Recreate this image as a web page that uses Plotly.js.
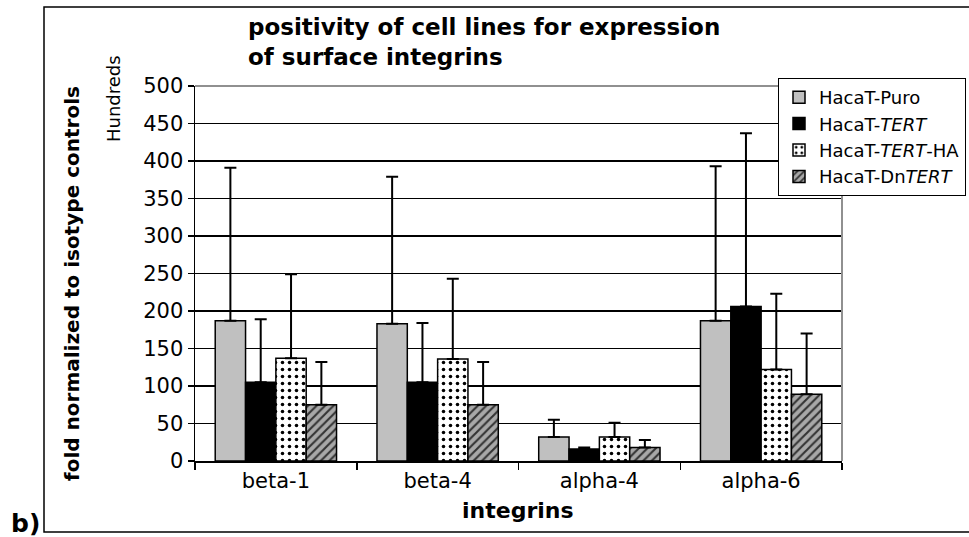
<!DOCTYPE html>
<html>
<head>
<meta charset="utf-8">
<script src="https://cdn.plot.ly/plotly-3.0.1.min.js"></script>
<style>
html,body{margin:0;padding:0;background:#fff;}
#chart{width:969px;height:537px;}
</style>
</head>
<body>
<div id="chart"></div>
<script>
const categories = ["beta-1", "beta-4", "alpha-4", "alpha-6"];
const seriesNames = ["HacaT-Puro", "HacaT-<i>TERT</i>", "HacaT-<i>TERT</i>-HA", "HacaT-Dn<i>TERT</i>"];
const puro = [187, 183, 32, 187];
const tert = [105, 105, 16, 206];
const tertHA = [137, 136, 32, 122];
const dnTert = [75, 75, 18, 89];
const puroErr = [204, 196, 23, 206];
const tertErr = [84, 79, 2, 231];
const tertHAErr = [112, 107, 19, 101];
const dnTertErr = [57, 57, 10, 81];

const fontFam = "DejaVu Sans, Verdana, sans-serif";
const values = [puro, tert, tertHA, dnTert];
const errs = [puroErr, tertErr, tertHAErr, dnTertErr];
const markers = [
  {color: "#c0c0c0", line: {color: "#000", width: 1.5}},
  {color: "#000000", line: {color: "#000", width: 1.5}},
  {color: "#ffffff", line: {color: "#000", width: 1.5},
   pattern: {shape: ".", fgcolor: "#000", bgcolor: "#ffffff", size: 7, solidity: 0.2}},
  {color: "#a8a8a8", line: {color: "#000", width: 1.5},
   pattern: {shape: "/", fgcolor: "#333", bgcolor: "#a8a8a8", size: 6, solidity: 0.35}}
];

const traces = values.map((v, i) => ({
  type: "bar",
  name: seriesNames[i],
  x: categories,
  y: v,
  marker: markers[i],
  error_y: {type: "data", symmetric: false, array: errs[i], arrayminus: v.map(() => 0),
            color: "#000", thickness: 2, width: 6}
}));

const L = 195, R = 842, T = 86, B = 461, W = 969, H = 537;
const pw = R - L, ph = B - T;
const px = x => (x - L) / pw;
const py = y => (B - y) / ph;

const layout = {
  width: W, height: H,
  margin: {l: L, r: W - R, t: T, b: H - B, pad: 0, autoexpand: false},
  paper_bgcolor: "#fff", plot_bgcolor: "#fff",
  font: {family: fontFam, color: "#000", size: 21},
  barmode: "group", bargap: 0.25, bargroupgap: 0,
  showlegend: true,
  legend: {x: px(778), y: py(78), xanchor: "left", yanchor: "top",
           bgcolor: "#fff", bordercolor: "#000", borderwidth: 1,
           font: {family: fontFam, size: 18, color: "#000"},
           itemwidth: 30, tracegroupgap: 0},
  xaxis: {type: "category", tickson: "boundaries", ticks: "outside", ticklen: 7,
          tickcolor: "#000", tickwidth: 1.5, showline: true, linecolor: "#000", linewidth: 1.5,
          showgrid: false, tickfont: {size: 21, family: fontFam}, fixedrange: true, automargin: false},
  yaxis: {range: [0, 500], dtick: 50, tick0: 0, ticks: "outside", ticklen: 6,
          tickcolor: "#000", tickwidth: 1.5, showline: true, linecolor: "#000", linewidth: 1.5,
          showgrid: true, gridcolor: "#000", gridwidth: 1.5, zeroline: false,
          tickfont: {size: 21, family: fontFam}, fixedrange: true, automargin: false},
  shapes: [
    {type: "line", xref: "paper", yref: "paper", x0: 0, x1: 1, y0: 1, y1: 1,
     line: {color: "#909090", width: 2}},
    {type: "line", xref: "paper", yref: "paper", x0: 1, x1: 1, y0: 0, y1: 1,
     line: {color: "#909090", width: 2}},
    {type: "rect", xref: "paper", yref: "paper", x0: px(44), x1: px(975), y0: py(532), y1: py(7),
     line: {color: "#000", width: 1.5}, fillcolor: "rgba(0,0,0,0)", layer: "below"}
  ],
  annotations: [
    {text: "positivity of cell lines for expression<br>of surface integrins", xref: "paper", yref: "paper",
     x: px(246), y: py(12), xanchor: "left", yanchor: "top", align: "left", showarrow: false,
     font: {family: fontFam, size: 23, color: "#000", weight: "bold"}},
    {text: "<b>fold normalized to isotype controls</b>", xref: "paper", yref: "paper",
     x: px(72), y: py(284), xanchor: "center", yanchor: "middle", textangle: -90, showarrow: false,
     font: {family: fontFam, size: 20, color: "#000"}},
    {text: "Hundreds", xref: "paper", yref: "paper",
     x: px(114), y: py(99), xanchor: "center", yanchor: "middle", textangle: -90, showarrow: false,
     font: {family: fontFam, size: 18, color: "#000"}},
    {text: "<b>integrins</b>", xref: "paper", yref: "paper",
     x: px(518), y: py(510), xanchor: "center", yanchor: "middle", showarrow: false,
     font: {family: fontFam, size: 22, color: "#000"}},
    {text: "<b>b)</b>", xref: "paper", yref: "paper",
     x: px(9), y: py(523), xanchor: "left", yanchor: "middle", showarrow: false,
     font: {family: fontFam, size: 25, color: "#000"}}
  ]
};

Plotly.newPlot("chart", traces, layout, {displayModeBar: false, staticPlot: true});
</script>
</body>
</html>
